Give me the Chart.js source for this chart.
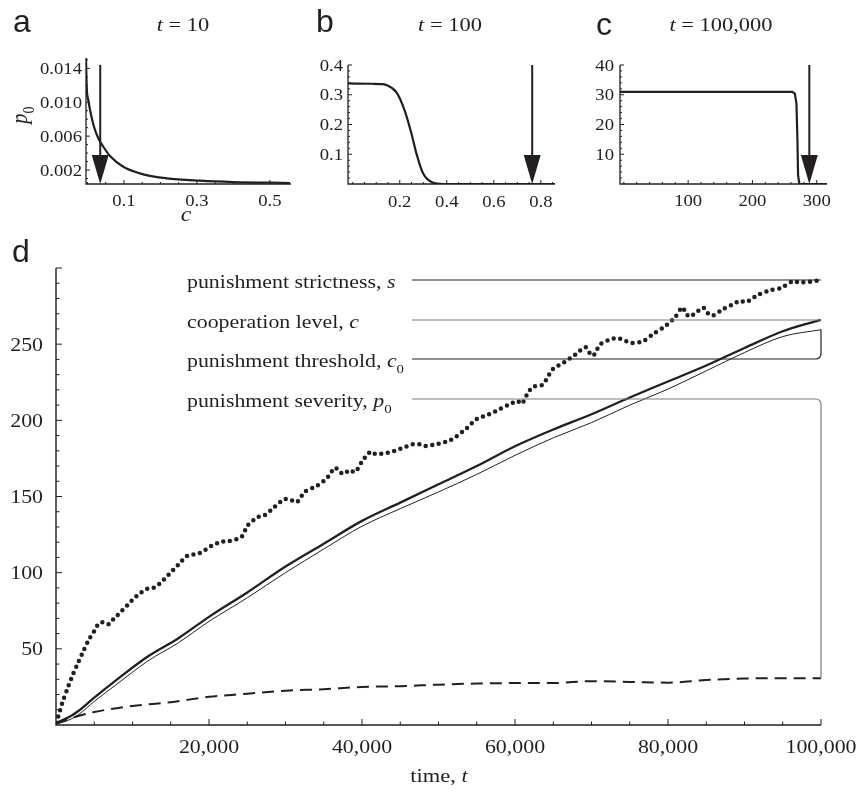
<!DOCTYPE html>
<html>
<head>
<meta charset="utf-8">
<script src="https://cdn.jsdelivr.net/npm/chart.js@4.4.1/dist/chart.umd.min.js"></script>
<style>
  html, body { margin: 0; padding: 0; background: #fff; }
  #wrap { position: relative; width: 856px; height: 794px; overflow: hidden; }
  #wrap canvas { position: absolute; left: 0; top: 0; }
</style>
</head>
<body>
<div id="wrap">
  <canvas id="chartA" width="856" height="794"></canvas>
  <canvas id="chartB" width="856" height="794"></canvas>
  <canvas id="chartC" width="856" height="794"></canvas>
  <canvas id="chartD" width="856" height="794"></canvas>
</div>
<script>
const INK = '#231f20';
const GREY = '#7d7d7d';
const SERIF = '"Liberation Serif", "Times New Roman", serif';
const SANS = '"Liberation Sans", Arial, sans-serif';
const STRETCH = 1.14;

// panel a: p0 over c at t = 10
const aX = [-0.004, -0.002, 0.0023, 0.0089, 0.0179, 0.0297, 0.0434, 0.0618, 0.0982, 0.153, 0.217, 0.308, 0.40, 0.555];
const aY = [0.0152, 0.0118, 0.01026, 0.00869, 0.00711, 0.00574, 0.00475, 0.00365, 0.00239, 0.00149, 0.00102, 0.00074, 0.00058, 0.00047];
const aArrow = 0.035;
const aTicksX = [0.1, 0.3, 0.5];
const aTicksY = [0.002, 0.006, 0.010, 0.014];

// panel b: t = 100
const bX = [-0.02, 0.08, 0.12, 0.143, 0.186, 0.221, 0.25, 0.271, 0.299, 0.342, 0.384, 0.86];
const bY = [0.338, 0.337, 0.336, 0.333, 0.308, 0.247, 0.169, 0.102, 0.036, 0.004, 0, 0];
const bArrow = 0.763;
const bTicksX = [0.2, 0.4, 0.6, 0.8];
const bTicksY = [0.1, 0.2, 0.3, 0.4];

// panel c: t = 100,000
const cX = [-6, 262, 266, 268.5, 270, 271, 273, 316];
const cY = [31, 31, 30.4, 27, 15, 3, 0, 0];
const cArrow = 288.5;
const cTicksX = [100, 200, 300];
const cTicksY = [10, 20, 30, 40];

// panel d: time series
const sTime = [0, 390, 870, 1480, 2090, 2790, 3485, 4270, 5140, 5620, 6190, 6880, 7490, 8100, 9325, 10545, 11940, 12810, 13510, 14730, 15950, 17170, 18740, 20300, 21700, 22570, 24270, 25010, 26360, 27190, 28500, 29850, 30680, 31460, 32550, 34080, 35470, 36470, 37040, 37650, 38340, 39090, 40000, 41130, 41700, 43310, 44970, 46630, 47490, 48280, 49930, 51410, 52290, 53680, 54990, 56510, 58040, 59570, 60300, 60870, 61310, 61740, 62390, 63490, 64050, 64930, 66410, 67840, 69240, 69800, 70240, 70680, 71200, 72720, 73500, 74380, 75250, 76780, 78080, 79740, 80920, 81870, 82220, 82790, 83960, 84610, 85140, 85790, 87230, 88760, 89410, 90200, 91590, 93240, 94860, 96380, 97030, 98560, 100000];
const sValue = [1.5, 7.2, 15.3, 23.6, 31.7, 39.8, 47.5, 55.8, 62.8, 66.8, 67.4, 66.1, 69.4, 72.4, 78.6, 84.7, 89.5, 90.2, 92.6, 98.7, 105, 111.1, 112.7, 117.5, 120.4, 120.6, 123.6, 130.7, 136.4, 137.4, 142.9, 148.2, 147.7, 146.2, 153.2, 156.9, 162.4, 168.9, 166.3, 164.8, 167.4, 166.1, 172.9, 179.5, 178, 178.6, 181.2, 184.3, 184.3, 183.2, 184.5, 186.7, 189.3, 194.8, 200.9, 203.7, 207.5, 211.2, 212.7, 210.8, 214.5, 218.4, 222.1, 223, 226.5, 233.5, 238.1, 242.9, 248, 244, 242.5, 246.2, 250.2, 253.4, 253.9, 252.3, 250.8, 252.1, 256.7, 262.2, 267.7, 274.2, 271.4, 268.1, 272, 274, 270.7, 268.7, 273.1, 276.9, 278.6, 277.5, 281.9, 285.2, 287.1, 291.5, 290.6, 291, 292];
const lineTime = [0, 1000, 2000, 3000, 5000, 8000, 12000, 16000, 20000, 25000, 30000, 35000, 40000, 45000, 50000, 55000, 60000, 65000, 70000, 75000, 80000, 85000, 90000, 95000, 100000];
const coopValue = [1.5, 3.5, 6, 9.5, 18, 30, 45, 57, 71, 87, 104, 119, 134, 146, 158, 170, 183, 194, 204, 215, 225.5, 236, 247.5, 258.5, 266];
const threshValue = [0.5, 2, 4, 7, 15.5, 27, 42, 54, 68, 83.5, 100, 115.5, 130.5, 142, 153, 164.5, 177, 188.5, 198.5, 210, 220.5, 232.5, 244.5, 255, 259.5];
const sevTime = [0, 2000, 5000, 10000, 15000, 20000, 25000, 30000, 35000, 40000, 45000, 50000, 55000, 60000, 65000, 70000, 75000, 80000, 85000, 90000, 95000, 100000];
const sevValue = [1, 4.5, 8.5, 12.5, 15, 18.5, 20.5, 22.5, 23.5, 25, 25.5, 26.5, 27.2, 27.5, 27.5, 28.8, 28.3, 27.8, 29.5, 30.5, 30.7, 30.7];
const dTicksX = [20000, 40000, 60000, 80000, 100000];
const dTicksY = [50, 100, 150, 200, 250];

const zip = (xs, ys) => xs.map((x, i) => ({ x: x, y: ys[i] }));
const last = arr => arr[arr.length - 1];

// text with italic runs and subscripts, stretched sideways like the original print
function drawRuns(ctx, runs, x, y, size, align, stretch) {
    const k = stretch === undefined ? STRETCH : stretch;
    const fontFor = st => (st === 'i' ? 'italic ' : '') + (st === 'sub' ? Math.round(size * 0.68) : size) + 'px ' + SERIF;
    let w = 0;
    runs.forEach(([t, st]) => { ctx.font = fontFor(st); w += ctx.measureText(t).width; });
    ctx.save();
    ctx.translate(x, y);
    ctx.scale(k, 1);
    ctx.textAlign = 'left';
    ctx.textBaseline = 'alphabetic';
    let cx = align === 'center' ? -w / 2 : align === 'right' ? -w : 0;
    runs.forEach(([t, st]) => {
        ctx.font = fontFor(st);
        ctx.fillText(t, cx, st === 'sub' ? size * 0.3 : 0);
        cx += ctx.measureText(t).width;
    });
    ctx.restore();
}

function panelLetter(ctx, letter, x, y) {
    ctx.save();
    ctx.font = '32px ' + SANS;
    ctx.fillStyle = INK;
    ctx.textAlign = 'left';
    ctx.textBaseline = 'alphabetic';
    ctx.fillText(letter, x, y);
    ctx.restore();
}

function drawArrow(chart, value, top) {
    const { ctx, chartArea: area, scales: { x, y } } = chart;
    const px = x.getPixelForValue(value);
    const yTop = y.getPixelForValue(top);
    const yBot = area.bottom;
    ctx.save();
    ctx.strokeStyle = INK;
    ctx.fillStyle = INK;
    ctx.lineWidth = 2;
    ctx.beginPath();
    ctx.moveTo(px, yTop);
    ctx.lineTo(px, yBot - 28);
    ctx.stroke();
    ctx.beginPath();
    ctx.moveTo(px - 8.5, yBot - 29);
    ctx.lineTo(px + 8.5, yBot - 29);
    ctx.lineTo(px, yBot);
    ctx.closePath();
    ctx.fill();
    ctx.restore();
}

// axes, inward ticks, tick labels
function framePlugin(spec) {
    return {
        id: 'frame',
        afterDatasetsDraw(chart) {
            const { ctx, chartArea: area, scales: { x, y } } = chart;
            ctx.save();
            ctx.strokeStyle = INK;
            ctx.fillStyle = INK;
            ctx.lineWidth = spec.axisWidth;
            ctx.beginPath();
            ctx.moveTo(area.left, area.top);
            ctx.lineTo(area.left, area.bottom);
            ctx.lineTo(area.right, area.bottom);
            ctx.stroke();

            ctx.lineWidth = 1;
            ctx.beginPath();
            const isMajor = (list, v, step) => list.some(t => Math.abs(t - v) < step / 10);
            for (let v = Math.ceil(x.min / spec.xStep) * spec.xStep; v <= x.max + 1e-9; v += spec.xStep) {
                const len = isMajor(spec.xMajor, v, spec.xStep) ? spec.majorLen : spec.minorLen;
                const px = x.getPixelForValue(v);
                if (px <= area.left + 1) continue;
                ctx.moveTo(px, area.bottom);
                ctx.lineTo(px, area.bottom - len);
            }
            for (let v = Math.ceil(y.min / spec.yStep) * spec.yStep; v <= y.max + 1e-9; v += spec.yStep) {
                const len = isMajor(spec.yMajor, v, spec.yStep) ? spec.majorLen : spec.minorLen;
                const py = y.getPixelForValue(v);
                if (py >= area.bottom - 1) continue;
                ctx.moveTo(area.left, py);
                ctx.lineTo(area.left + len, py);
            }
            ctx.stroke();

            spec.xTicks.forEach(v => drawRuns(ctx, [[spec.fmtX(v), '']], x.getPixelForValue(v), spec.xLabelY, spec.tickSize, 'center'));
            spec.yTicks.forEach(v => drawRuns(ctx, [[spec.fmtY(v), '']], area.left - spec.yGap, y.getPixelForValue(v) + spec.tickSize * 0.34, spec.tickSize, 'right'));
            if (spec.extra) spec.extra(chart, ctx);
            ctx.restore();
        }
    };
}

function lineSet(data, width, extra) {
    return Object.assign({
        data: data,
        borderColor: INK,
        borderWidth: width,
        pointRadius: 0,
        fill: false,
        cubicInterpolationMode: 'monotone'
    }, extra || {});
}

function makeChart(id, datasets, box, xr, yr, spec) {
    return new Chart(document.getElementById(id).getContext('2d'), {
        type: 'line',
        data: { datasets: datasets },
        options: {
            responsive: false,
            animation: false,
            devicePixelRatio: 1,
            layout: { padding: { left: box.left, top: box.top, right: 856 - box.right, bottom: 794 - box.bottom } },
            plugins: { legend: { display: false }, tooltip: { enabled: false } },
            events: [],
            scales: {
                x: { type: 'linear', display: false, min: xr[0], max: xr[1] },
                y: { type: 'linear', display: false, min: yr[0], max: yr[1] }
            }
        },
        plugins: [framePlugin(spec)]
    });
}

// panel a
makeChart('chartA', [lineSet(zip(aX, aY), 2.2)],
    { left: 86, right: 291, top: 58, bottom: 184 }, [-0.004, 0.558], [0.00035, 0.01522], {
        axisWidth: 1.3, majorLen: 4, minorLen: 2,
        xStep: 0.05, xMajor: aTicksX, yStep: 0.001, yMajor: aTicksY,
        xTicks: aTicksX, yTicks: aTicksY, tickSize: 16.4, xLabelY: 206, yGap: 4,
        fmtX: v => v.toFixed(1), fmtY: v => v.toFixed(3),
        extra(chart, ctx) {
            drawArrow(chart, aArrow, 0.0144);
            panelLetter(ctx, 'a', 13, 32);
            drawRuns(ctx, [['t', 'i'], [' = 10', '']], 183, 31, 19.7, 'center');
            drawRuns(ctx, [['c', 'i']], 186, 221, 21, 'center');
            ctx.save();
            ctx.translate(27, 115);
            ctx.scale(STRETCH, 1);
            ctx.rotate(-Math.PI / 2);
            drawRuns(ctx, [['p', 'i'], ['0', 'sub']], 0, 0, 20.5, 'center', 1);
            ctx.restore();
        }
    });

// panel b
makeChart('chartB', [lineSet(zip(bX, bY), 2.2)],
    { left: 348, right: 555, top: 65, bottom: 184 }, [-0.02, 0.86], [0, 0.4], {
        axisWidth: 1.3, majorLen: 4, minorLen: 2,
        xStep: 0.05, xMajor: bTicksX, yStep: 0.02, yMajor: bTicksY,
        xTicks: bTicksX, yTicks: bTicksY, tickSize: 16.4, xLabelY: 207, yGap: 5,
        fmtX: v => v.toFixed(1), fmtY: v => v.toFixed(1),
        extra(chart, ctx) {
            drawArrow(chart, bArrow, 0.4);
            panelLetter(ctx, 'b', 316, 32);
            drawRuns(ctx, [['t', 'i'], [' = 100', '']], 450, 31, 19.7, 'center');
        }
    });

// panel c
makeChart('chartC', [lineSet(zip(cX, cY), 2.2, { cubicInterpolationMode: 'default', tension: 0 })],
    { left: 620, right: 827, top: 65, bottom: 184 }, [-6, 316], [0, 40], {
        axisWidth: 1.3, majorLen: 4, minorLen: 2,
        xStep: 20, xMajor: cTicksX, yStep: 2, yMajor: cTicksY,
        xTicks: cTicksX, yTicks: cTicksY, tickSize: 16.4, xLabelY: 206, yGap: 6,
        fmtX: v => String(v), fmtY: v => String(v),
        extra(chart, ctx) {
            drawArrow(chart, cArrow, 40);
            panelLetter(ctx, 'c', 596, 35);
            drawRuns(ctx, [['t', 'i'], [' = 100,000', '']], 721, 31, 19.7, 'center');
        }
    });

// panel d legend rows, joined to the end of each series
const legendRows = [
    { runs: [['punishment strictness, ', ''], ['s', 'i']], y: 280, color: INK, end: last(sValue) },
    { runs: [['cooperation level, ', ''], ['c', 'i']], y: 320, color: GREY, end: last(coopValue) },
    { runs: [['punishment threshold, ', ''], ['c', 'i'], ['0', 'sub']], y: 359, color: INK, end: last(threshValue) },
    { runs: [['punishment severity, ', ''], ['p', 'i'], ['0', 'sub']], y: 399, color: GREY, end: last(sevValue) }
];

makeChart('chartD', [
    lineSet(zip(sTime, sValue), 4.5, { borderDash: [0, 6.6], borderCapStyle: 'round', cubicInterpolationMode: 'default', tension: 0.3 }),
    lineSet(zip(lineTime, coopValue), 2.3),
    lineSet(zip(lineTime, threshValue), 1),
    lineSet(zip(sevTime, sevValue), 2, { borderDash: [12, 7] })
], { left: 56, right: 821, top: 268, bottom: 725 }, [0, 100000], [0, 300], {
    axisWidth: 1.4, majorLen: 6, minorLen: 3.5,
    xStep: 5000, xMajor: dTicksX, yStep: 10, yMajor: dTicksY.concat([300]),
    xTicks: dTicksX, yTicks: dTicksY, tickSize: 19.2, xLabelY: 753, yGap: 13,
    fmtX: v => v.toLocaleString('en-US'), fmtY: v => String(v),
    extra(chart, ctx) {
        const { scales: { x, y } } = chart;
        panelLetter(ctx, 'd', 12, 262);
        drawRuns(ctx, [['time, ', ''], ['t', 'i']], 439, 782, 19.7, 'center');
        legendRows.forEach(row => {
            drawRuns(ctx, row.runs, 187, row.y + 8, 19.2, 'left');
            const xe = x.getPixelForValue(100000);
            const ye = y.getPixelForValue(row.end);
            ctx.save();
            ctx.strokeStyle = row.color;
            ctx.lineWidth = 1.2;
            ctx.beginPath();
            ctx.moveTo(412, row.y);
            if (Math.abs(ye - row.y) < 3) {
                ctx.lineTo(xe, row.y);
            } else {
                ctx.arcTo(xe, row.y, xe, ye, 5);
                ctx.lineTo(xe, ye);
            }
            ctx.stroke();
            ctx.restore();
        });
    }
});
</script>
</body>
</html>
